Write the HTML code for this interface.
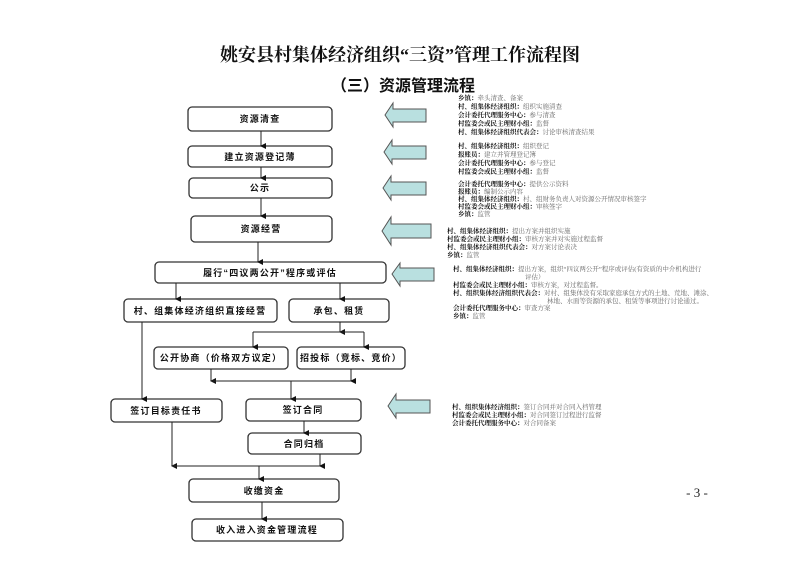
<!DOCTYPE html>
<html><head><meta charset="utf-8"><style>
html,body{margin:0;padding:0;background:#fff;}
svg{display:block;}
.b{fill:#fff;stroke:#333;stroke-width:1.3;}
.t{font-family:"Liberation Sans","Noto Sans CJK SC",sans-serif;font-size:9px;font-weight:bold;fill:#111;text-anchor:middle;letter-spacing:1.2px;}
.l{stroke:#222;stroke-width:1;fill:none;}
.s{font-family:"Liberation Serif","Noto Serif CJK SC",serif;font-size:6.5px;fill:#666;}
.s tspan.k{font-weight:bold;fill:#111;}
.a{fill:#b9e0e0;stroke:#555;stroke-width:1;}
</style></head><body>
<svg width="800" height="566" viewBox="0 0 800 566" xmlns="http://www.w3.org/2000/svg">
<defs><marker id="m" markerWidth="6" markerHeight="6" refX="3" refY="5" orient="auto" markerUnits="userSpaceOnUse"><path d="M0,0 L6,0 L3,6 Z" fill="#111"/></marker></defs>
<text x="400" y="61" font-family="'Liberation Serif','Noto Serif CJK SC',serif" font-size="18" font-weight="bold" text-anchor="middle" fill="#111">姚安县村集体经济组织“三资”管理工作流程图</text>
<text x="403" y="91" font-family="'Liberation Sans','Noto Sans CJK SC',sans-serif" font-size="16" font-weight="bold" text-anchor="middle" fill="#111">（三）资源管理流程</text>

<rect class="b" x="188" y="107" width="144" height="24" rx="4"/><text class="t" x="260" y="122">资源清查</text>
<rect class="b" x="188" y="146" width="144" height="21" rx="4"/><text class="t" x="260" y="160">建立资源登记薄</text>
<rect class="b" x="189" y="178" width="143" height="20" rx="4"/><text class="t" x="260" y="191">公示</text>
<rect class="b" x="191" y="216" width="141" height="26" rx="4"/><text class="t" x="261" y="232">资源经营</text>
<rect class="b" x="155" y="262" width="231" height="21" rx="4"/><text class="t" x="270" y="276">履行“四议两公开”程序或评估</text>
<rect class="b" x="124" y="299" width="153" height="23" rx="4"/><text class="t" x="200" y="314">村、组集体经济组织直接经营</text>
<rect class="b" x="289" y="299" width="100" height="23" rx="4"/><text class="t" x="339" y="314">承包、租赁</text>
<rect class="b" x="154" y="347" width="134" height="22" rx="4"/><text class="t" x="221" y="361">公开协商（价格双方议定）</text>
<rect class="b" x="297" y="347" width="108" height="22" rx="4"/><text class="t" x="351" y="361">招投标（竞标、竞价）</text>
<rect class="b" x="111" y="399" width="111" height="23" rx="4"/><text class="t" x="166" y="414">签订目标责任书</text>
<rect class="b" x="246" y="399" width="115" height="22" rx="4"/><text class="t" x="303" y="413">签订合同</text>
<rect class="b" x="248" y="433" width="113" height="21" rx="4"/><text class="t" x="304" y="447">合同归档</text>
<rect class="b" x="189" y="479" width="150" height="23" rx="4"/><text class="t" x="264" y="494">收缴资金</text>
<rect class="b" x="192" y="519" width="151" height="22" rx="4"/><text class="t" x="267" y="533">收入进入资金管理流程</text>

<g class="l">
<line x1="261" y1="131" x2="261" y2="146" marker-end="url(#m)"/>
<line x1="261" y1="167" x2="261" y2="178" marker-end="url(#m)"/>
<line x1="261" y1="198" x2="261" y2="216" marker-end="url(#m)"/>
<line x1="258" y1="242" x2="258" y2="262" marker-end="url(#m)"/>
<line x1="176" y1="283" x2="176" y2="299" marker-end="url(#m)"/>
<line x1="340" y1="283" x2="340" y2="299" marker-end="url(#m)"/>
<line x1="340" y1="322" x2="340" y2="332" marker-end="url(#m)"/>
<line x1="253" y1="332" x2="364" y2="332"/>
<line x1="253" y1="332" x2="253" y2="347" marker-end="url(#m)"/>
<line x1="364" y1="332" x2="364" y2="347" marker-end="url(#m)"/>
<line x1="211" y1="369" x2="211" y2="381" marker-end="url(#m)"/>
<line x1="351" y1="369" x2="351" y2="381" marker-end="url(#m)"/>
<line x1="211" y1="381" x2="351" y2="381"/>
<line x1="291" y1="381" x2="291" y2="399" marker-end="url(#m)"/>
<line x1="142" y1="322" x2="142" y2="399" marker-end="url(#m)"/>
<line x1="304" y1="421" x2="304" y2="433" marker-end="url(#m)"/>
<line x1="172" y1="422" x2="172" y2="466" marker-end="url(#m)"/>
<line x1="320" y1="454" x2="320" y2="466" marker-end="url(#m)"/>
<line x1="172" y1="466" x2="320" y2="466"/>
<line x1="259" y1="466" x2="259" y2="479" marker-end="url(#m)"/>
<line x1="262" y1="502" x2="262" y2="519" marker-end="url(#m)"/>
</g>

<path class="a" d="M385,115 L393,103 L393,109 L426,109 L426,122 L393,122 L393,127 Z"/>
<path class="a" d="M384,152 L392,140 L392,146 L426,146 L426,159 L392,159 L392,164 Z"/>
<path class="a" d="M383,188 L391,176 L391,182 L426,182 L426,195 L391,195 L391,200 Z"/>
<path class="a" d="M382,231 L391,217 L391,224 L431,224 L431,238 L391,238 L391,245 Z"/>
<path class="a" d="M392,274 L400,263 L400,268 L434,268 L434,281 L400,281 L400,286 Z"/>
<path class="a" d="M388,406 L396,394 L396,400 L430,400 L430,413 L396,413 L396,418 Z"/>

<g class="s">
<text x="458" y="100"><tspan class="k">乡镇：</tspan>牵头清查、备案</text>
<text x="458" y="108.5"><tspan class="k">村、组集体经济组织：</tspan>组织实施清查</text>
<text x="458" y="117"><tspan class="k">会计委托代理服务中心：</tspan>参与清查</text>
<text x="458" y="125.5"><tspan class="k">村监委会或民主理财小组：</tspan>监督</text>
<text x="458" y="134"><tspan class="k">村、组集体经济组织代表会：</tspan>讨论审核清查结果</text>

<text x="458" y="148"><tspan class="k">村、组集体经济组织：</tspan>组织登记</text>
<text x="458" y="156.5"><tspan class="k">报账员：</tspan>建立并管理登记簿</text>
<text x="458" y="165"><tspan class="k">会计委托代理服务中心：</tspan>参与登记</text>
<text x="458" y="173.5"><tspan class="k">村监委会或民主理财小组：</tspan>监督</text>

<text x="458" y="186"><tspan class="k">会计委托代理服务中心：</tspan>提供公示资料</text>
<text x="458" y="193.5"><tspan class="k">报账员：</tspan>编制公示内容</text>
<text x="458" y="201"><tspan class="k">村、组集体经济组织：</tspan>村、组财务负责人对资源公开情况审核签字</text>
<text x="458" y="208.5"><tspan class="k">村监委会或民主理财小组：</tspan>审核签字</text>
<text x="458" y="216"><tspan class="k">乡镇：</tspan>监管</text>

<text x="447" y="233"><tspan class="k">村、组集体经济组织：</tspan>提出方案并组织实施</text>
<text x="447" y="241"><tspan class="k">村监委会或民主理财小组：</tspan>审核方案并对实施过程监督</text>
<text x="447" y="249"><tspan class="k">村、组集体经济组织代表会：</tspan>对方案讨论表决</text>
<text x="447" y="257"><tspan class="k">乡镇：</tspan>监管</text>

<text x="453" y="271"><tspan class="k">村、组集体经济组织：</tspan>提出方案，组织“四议两公开”程序或评估(有资质的中介机构进行</text>
<text x="525" y="279">评估）</text>
<text x="453" y="287"><tspan class="k">村监委会或民主理财小组：</tspan>审核方案，对过程监督。</text>
<text x="453" y="295"><tspan class="k">村、组织集体经济组织代表会：</tspan>对村、组集体没有采取家庭承包方式的土地、荒地、滩涂、</text>
<text x="547" y="303">林地、水面等资源的承包、租赁等事项进行讨论通过。</text>
<text x="453" y="310"><tspan class="k">会计委托代理服务中心：</tspan>审查方案</text>
<text x="453" y="318"><tspan class="k">乡镇：</tspan>监管</text>

<text x="452" y="409"><tspan class="k">村、组织集体经济组织：</tspan>签订合同并对合同入档管理</text>
<text x="452" y="417"><tspan class="k">村监委会或民主理财小组：</tspan>对合同签订过程进行监督</text>
<text x="452" y="425"><tspan class="k">会计委托代理服务中心：</tspan>对合同备案</text>
</g>

<text x="697" y="497" font-family="'Liberation Serif',serif" font-size="13" text-anchor="middle" fill="#222">- 3 -</text>
</svg>
</body></html>
